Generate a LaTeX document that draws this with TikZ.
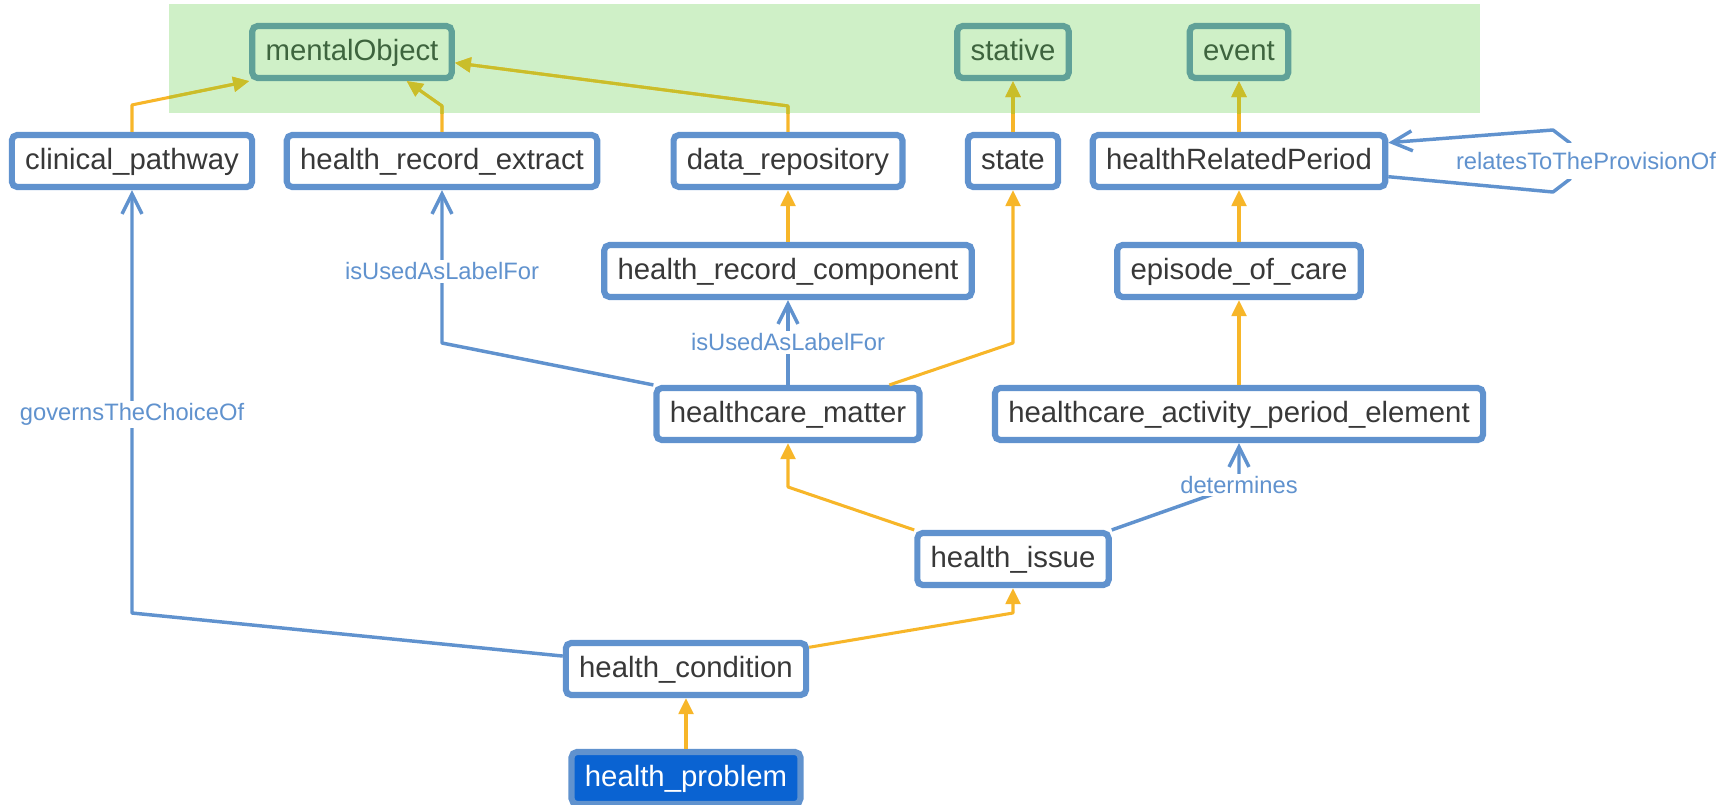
\documentclass[tikz,border=0pt]{standalone}
\usepackage{fontspec}
\setmainfont{Liberation Sans}
\usetikzlibrary{arrows.meta}
\definecolor{clsblue}{RGB}{96,146,206}
\definecolor{isayellow}{RGB}{247,182,41}
\definecolor{isaolive}{RGB}{201,190,42}
\definecolor{topgreen}{RGB}{207,240,199}
\definecolor{topteal}{RGB}{96,161,152}
\definecolor{toptext}{RGB}{62,100,62}
\definecolor{clstext}{RGB}{56,56,56}
\definecolor{focusblue}{RGB}{10,99,210}
\tikzset{every picture/.style={line width=0.75pt}}
\tikzset{
  cls/.style={draw=clsblue, line width=4.6pt, fill=white, rounded corners=4pt, inner xsep=10pt,
    minimum height=39pt, text=clstext, text height=16.5pt, text depth=3.5pt,
    font=\fontsize{22pt}{26pt}\selectfont},
  topcls/.style={cls, draw=topteal, fill=topgreen, text=toptext},
  focus/.style={cls, draw=clsblue, fill=focusblue, text=white},
  isa/.style={draw=isayellow, line width=2.3pt, line join=round, -{Triangle[length=12pt,width=11pt]}},
  isatop/.style={isa, draw=isaolive},
  rel/.style={draw=clsblue, line width=2.6pt, line join=round, -{Straight Barb[length=15pt,width=15pt]}},
  rellbl/.style={fill=white, text=clsblue, inner sep=2pt, font=\fontsize{17.8pt}{21pt}\selectfont},
}

\begin{document}
\begin{tikzpicture}[x=0.75pt,y=0.75pt,yscale=-1,xscale=1]
\useasboundingbox (0,0) rectangle (1729,804);

%Shape: Rectangle (top level band)
\fill[topgreen] (169,4) rectangle (1480,113);

% Top level nodes
\node[topcls] (mental) at (352,52) {mentalObject};
\node[topcls] (stative) at (1013,52) {stative};
\node[topcls] (event) at (1239,52) {event};
% Class nodes
\node[cls] (pathway) at (132,161) {clinical\_pathway};
\node[cls] (extract) at (442,161) {health\_record\_extract};
\node[cls] (repo) at (788,161) {data\_repository};
\node[cls] (state) at (1013,161) {state};
\node[cls] (period) at (1239,161) {healthRelatedPeriod};
\node[cls] (component) at (788,271) {health\_record\_component};
\node[cls] (episode) at (1239,271) {episode\_of\_care};
\node[cls] (matter) at (788,414) {healthcare\_matter};
\node[cls] (element) at (1239,414) {healthcare\_activity\_period\_element};
\node[cls] (issue) at (1013,559) {health\_issue};
\node[cls] (condition) at (686,669) {health\_condition};
\node[focus] (problem) at (686,778) {health\_problem};

%Straight Lines: subclass links
\draw[isa] (pathway.north) -- ++(0,-27) -- (mental.south west);
\draw[isa] (extract.north) -- ++(0,-26) -- (mental.-28);
\draw[isa] (repo.north) -- ++(0,-26) -- (mental.-6);
\draw[isa] (state) -- (stative);
\draw[isa] (period) -- (event);
\draw[isa] (component) -- (repo);
\draw[isa] (episode) -- (period);
\draw[isa] (element) -- (episode);
\draw[isa] (matter.16) -- (state.south |- 0,343) -- (state.south);
\draw[isa] (issue.north west) -- (matter.south |- 0,487) -- (matter.south);
\draw[isa] (condition.10) -- (issue.south |- 0,613) -- (issue.south);
\draw[isa] (problem) -- (condition);

%Straight Lines: relations
\draw[rel] (condition.174) -- (pathway.south |- 0,613) -- node[rellbl, pos=0.47] {governsTheChoiceOf} (pathway.south);
\draw[rel] (matter.north west) -- (extract.south |- 0,343) -- node[rellbl, pos=0.47] {isUsedAsLabelFor} (extract.south);
\draw[rel] (matter) -- node[rellbl] {isUsedAsLabelFor} (component);
\draw[rel] (issue.north east) -- (element.south |- 0,485) node[rellbl] {determines} -- (element.south);
\draw[rel] (period.-6) -- (1553,192) -- (1570,179) -- node[rellbl, inner ysep=7pt, xshift=12pt] {relatesToTheProvisionOf} (1570,143) -- (1553,130) -- (period.7);

% links seen through the top level band
\begin{scope}
\clip (169,4) rectangle (1480,113);
\draw[isatop] (pathway.north) -- ++(0,-27) -- (mental.south west);
\draw[isatop] (extract.north) -- ++(0,-26) -- (mental.-28);
\draw[isatop] (repo.north) -- ++(0,-26) -- (mental.-6);
\draw[isatop] (state) -- (stative);
\draw[isatop] (period) -- (event);
\end{scope}

\end{tikzpicture}
\end{document}
